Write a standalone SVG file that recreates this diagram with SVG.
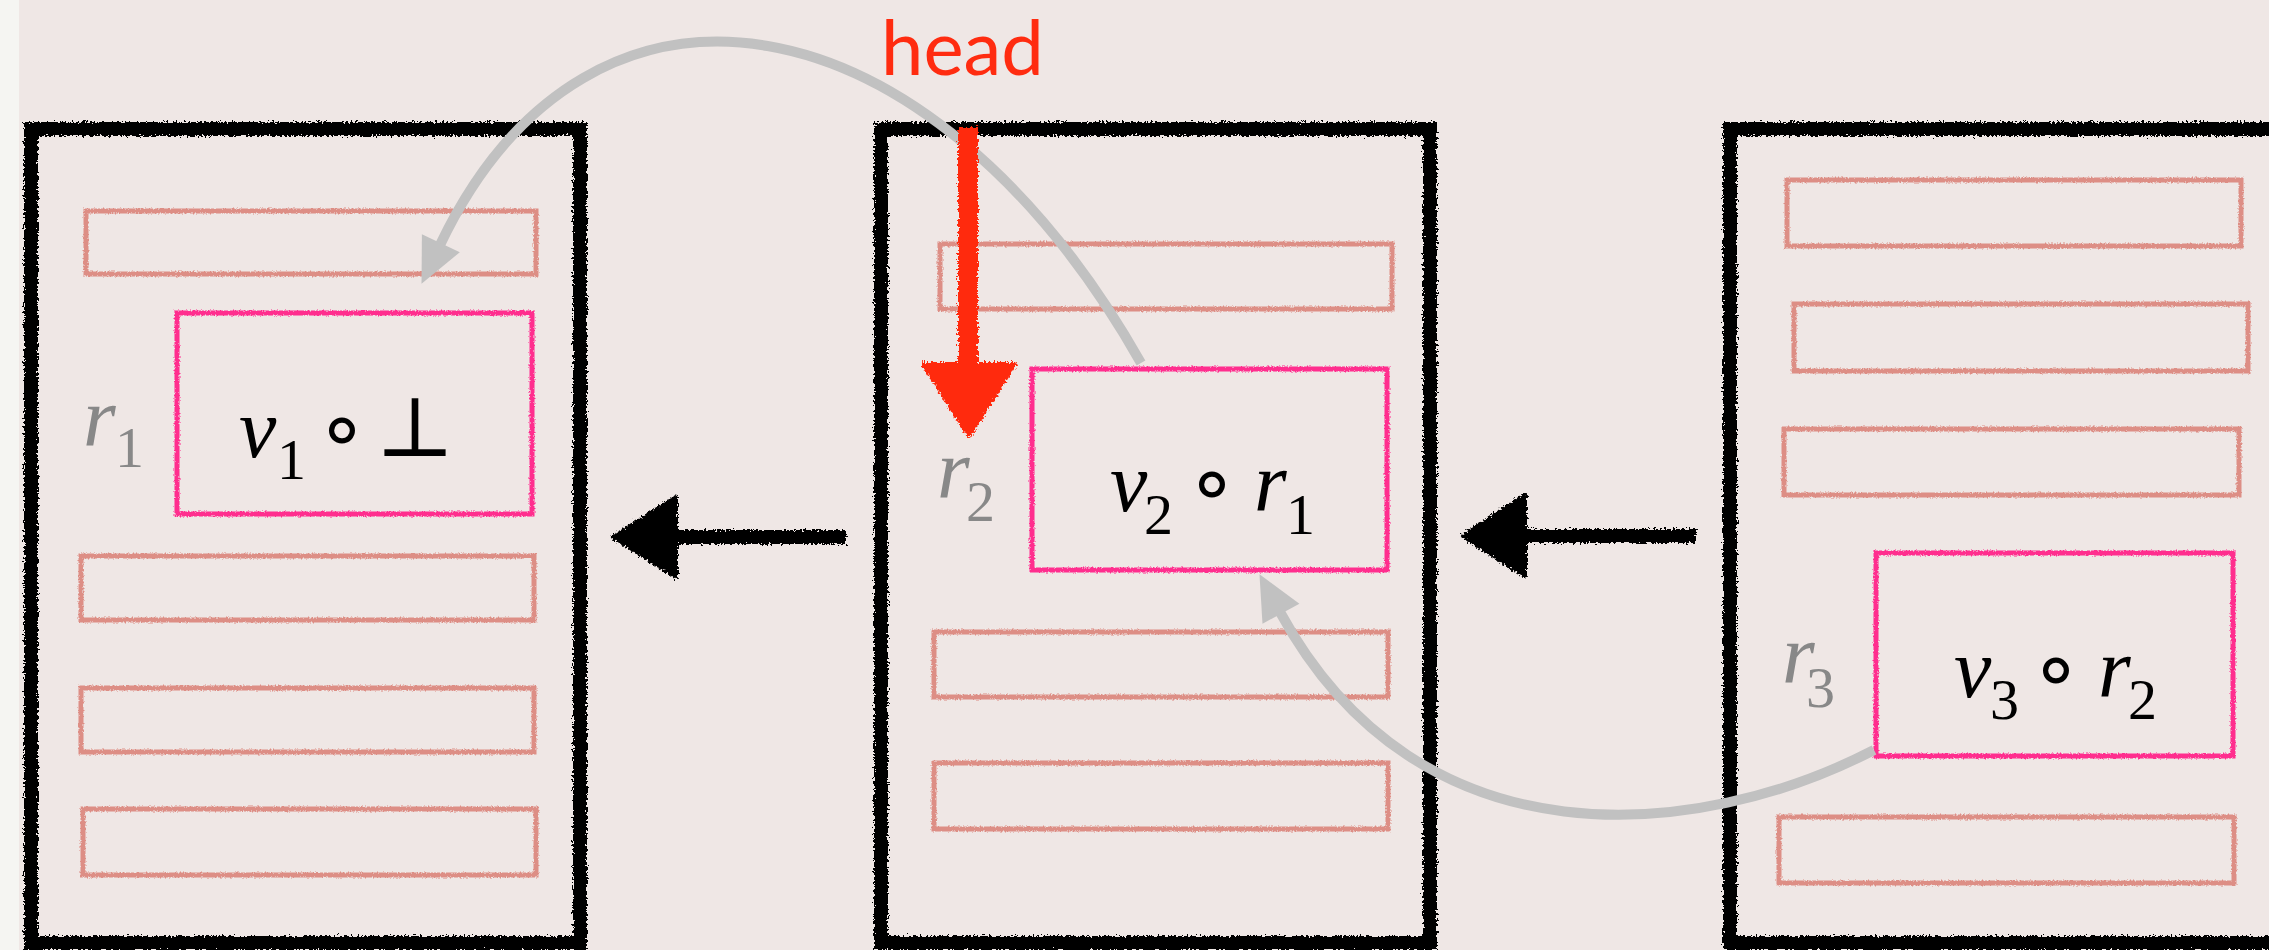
<svg xmlns="http://www.w3.org/2000/svg" width="2269" height="950" viewBox="0 0 2269 950">
<defs>
<filter id="roughBig" filterUnits="userSpaceOnUse" x="0" y="0" width="2269" height="950">
<feTurbulence type="fractalNoise" baseFrequency="0.45" numOctaves="2" seed="3" result="n"/>
<feDisplacementMap in="SourceGraphic" in2="n" scale="7" xChannelSelector="R" yChannelSelector="G"/>
</filter>
<filter id="roughSmall" filterUnits="userSpaceOnUse" x="0" y="0" width="2269" height="950">
<feTurbulence type="fractalNoise" baseFrequency="0.6" numOctaves="2" seed="7" result="n"/>
<feDisplacementMap in="SourceGraphic" in2="n" scale="3.5" xChannelSelector="R" yChannelSelector="G"/>
</filter>
<marker id="grayHead" markerUnits="userSpaceOnUse" orient="auto" refX="0" refY="0" markerWidth="50" markerHeight="50" overflow="visible">
<path d="M-2,-21 L43,0 L-2,21 Z" fill="#c1c1c1"/>
</marker>
<style>
.page{fill:none;stroke:#000;stroke-width:14;stroke-linejoin:miter}
.slot{fill:none;stroke:#dd8e85;stroke-width:5}
.hot{fill:none;stroke:#ff2d8e;stroke-width:5}
.link{fill:none;stroke:#c1c1c1;stroke-width:10;stroke-linecap:butt}
</style>
</defs>
<rect x="0" y="0" width="2269" height="950" fill="#efe7e5"/>
<rect x="0" y="0" width="19" height="950" fill="#f5f5f2"/>

<g id="block1">
<rect class="page" filter="url(#roughBig)" x="31" y="129" width="549" height="814"/>
<g filter="url(#roughSmall)">
<rect class="slot" x="86" y="211" width="450" height="63"/>
<rect class="hot" x="177" y="313" width="355" height="201"/>
<rect class="slot" x="81" y="556" width="453" height="64"/>
<rect class="slot" x="81" y="688" width="453" height="64"/>
<rect class="slot" x="83" y="809" width="453" height="66"/>
</g>
<text x="83" y="446" font-family="Liberation Serif" font-style="italic" font-size="84" fill="#888">r</text>
<text x="115" y="467" font-family="Liberation Serif" font-size="58" fill="#888">1</text>
<text x="239" y="457" font-family="Liberation Serif" font-style="italic" font-size="84" fill="#000">v</text>
<text x="277" y="479" font-family="Liberation Serif" font-size="58" fill="#000">1</text>
<text x="342" y="457" font-family="DejaVu Sans" font-size="84" fill="#000" text-anchor="middle">∘</text>
<text x="415" y="456" font-family="DejaVu Serif" font-size="84" fill="#000" text-anchor="middle">⊥</text>
</g>

<g id="block2">
<rect class="page" filter="url(#roughBig)" x="881" y="129" width="549" height="814"/>
<g filter="url(#roughSmall)">
<rect class="slot" x="940" y="244" width="452" height="65"/>
<rect class="hot" x="1032" y="369" width="355" height="201"/>
<rect class="slot" x="934" y="632" width="454" height="65"/>
<rect class="slot" x="934" y="763" width="454" height="66"/>
</g>
<text x="937" y="498" font-family="Liberation Serif" font-style="italic" font-size="84" fill="#888">r</text>
<text x="966" y="521" font-family="Liberation Serif" font-size="58" fill="#888">2</text>
<text x="1110" y="511" font-family="Liberation Serif" font-style="italic" font-size="84" fill="#000">v</text>
<text x="1144" y="534" font-family="Liberation Serif" font-size="58" fill="#000">2</text>
<text x="1212" y="511" font-family="DejaVu Sans" font-size="84" fill="#000" text-anchor="middle">∘</text>
<text x="1254" y="511" font-family="Liberation Serif" font-style="italic" font-size="84" fill="#000">r</text>
<text x="1286" y="534" font-family="Liberation Serif" font-size="58" fill="#000">1</text>
</g>

<g id="block3">
<rect class="page" filter="url(#roughBig)" x="1730" y="129" width="560" height="814"/>
<g filter="url(#roughSmall)">
<rect class="slot" x="1787" y="180" width="454" height="66"/>
<rect class="slot" x="1794" y="304" width="454" height="67"/>
<rect class="slot" x="1784" y="429" width="455" height="66"/>
<rect class="hot" x="1876" y="553" width="357" height="203"/>
<rect class="slot" x="1779" y="817" width="455" height="66"/>
</g>
<text x="1782" y="683" font-family="Liberation Serif" font-style="italic" font-size="84" fill="#888">r</text>
<text x="1806" y="707" font-family="Liberation Serif" font-size="58" fill="#888">3</text>
<text x="1954" y="697" font-family="Liberation Serif" font-style="italic" font-size="84" fill="#000">v</text>
<text x="1990" y="719" font-family="Liberation Serif" font-size="58" fill="#000">3</text>
<text x="2056" y="697" font-family="DejaVu Sans" font-size="84" fill="#000" text-anchor="middle">∘</text>
<text x="2098" y="697" font-family="Liberation Serif" font-style="italic" font-size="84" fill="#000">r</text>
<text x="2128" y="719" font-family="Liberation Serif" font-size="58" fill="#000">2</text>
</g>

<g id="connectors">
<path class="link" d="M1141,363 C930,-10 590,-70 440,245" marker-end="url(#grayHead)"/>
<path class="link" d="M1874,750 C1700,840 1420,870 1280,612" marker-end="url(#grayHead)"/>
<g filter="url(#roughBig)" fill="#000" stroke="#000">
<path d="M845,531 L676,531 L676,543 L845,543 Z" stroke-width="2"/>
<path d="M613,537 L676,497 L676,577 Z" stroke-width="4" stroke-linejoin="round"/>
<path d="M1695,530 L1525,530 L1525,542 L1695,542 Z" stroke-width="2"/>
<path d="M1463,536 L1525,495 L1525,576 Z" stroke-width="4" stroke-linejoin="round"/>
</g>
<g id="head-pointer" filter="url(#roughBig)" fill="#ff2c10" stroke="#ff2c10">
<path d="M959,128 L977,128 L977,364 L959,364 Z" stroke-width="2"/>
<path d="M923,364 L1015,364 L969,436 Z" stroke-width="4" stroke-linejoin="round"/>
</g>
</g>
<text x="881" y="75" font-family="Lato" font-size="76" fill="#ff2c10">head</text>
</svg>
